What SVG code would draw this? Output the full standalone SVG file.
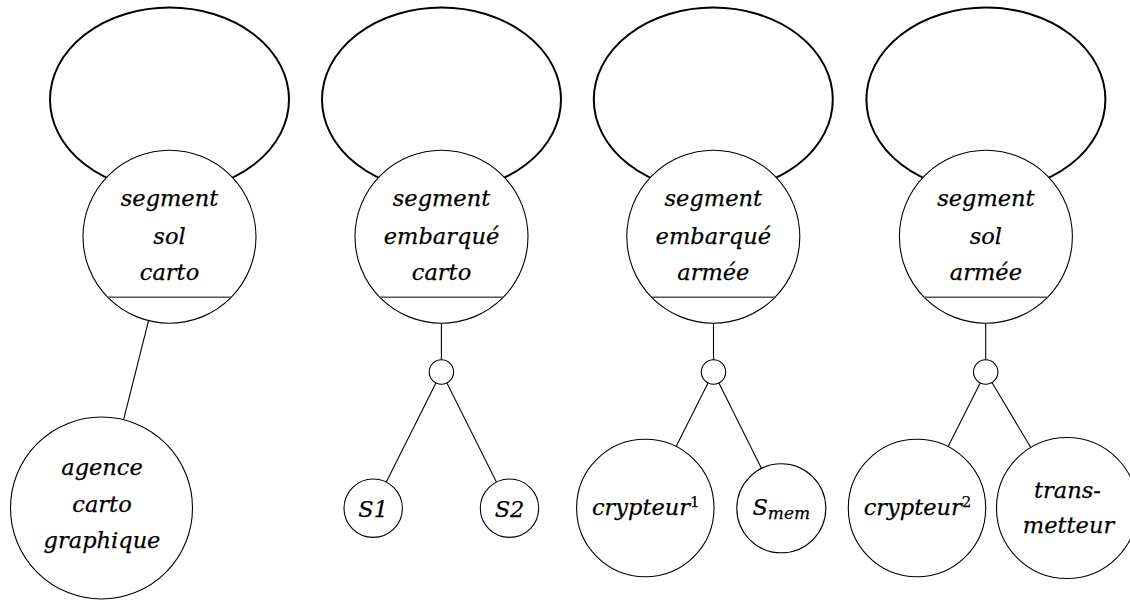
<svg xmlns="http://www.w3.org/2000/svg" width="1130" height="601" viewBox="0 0 1130 601">
<style>
.loop{fill:none;stroke:#000;stroke-width:2}
.node{fill:#fff;stroke:#000;stroke-width:1.1}
.sep{stroke:#555;stroke-width:1.6}
.edge{stroke:#000;stroke-width:1.1;fill:none}
.lbl{font-family:"DejaVu Serif",serif;font-style:italic;font-size:22.5px;fill:#000;text-anchor:middle;stroke:#000;stroke-width:0.25}
.sup{font-size:15px;font-style:normal}
.sub{font-size:17px}
</style>
<rect width="1130" height="601" fill="#fff"/>
<g id="loops">
<ellipse class="loop" cx="169.5" cy="99.5" rx="119.5" ry="92"/>
<ellipse class="loop" cx="441.5" cy="99.5" rx="119.5" ry="92"/>
<ellipse class="loop" cx="713.3" cy="99.5" rx="119.5" ry="92"/>
<ellipse class="loop" cx="985.9" cy="99.5" rx="119.5" ry="92"/>
</g>
<g id="seg-sol-carto">
<circle class="node" cx="169.5" cy="236.7" r="86.5"/>
<line class="sep" x1="107.8" y1="297.3" x2="231.2" y2="297.3"/>
<text class="lbl" x="169.5" y="206">segment</text>
<text class="lbl" x="169.5" y="244">sol</text>
<text class="lbl" x="169.5" y="280">carto</text>
</g>
<g id="seg-emb-carto">
<circle class="node" cx="441.5" cy="236.7" r="86.5"/>
<line class="sep" x1="379.8" y1="297.3" x2="503.2" y2="297.3"/>
<text class="lbl" x="441.5" y="206">segment</text>
<text class="lbl" x="441.5" y="244">embarqué</text>
<text class="lbl" x="441.5" y="280">carto</text>
</g>
<g id="seg-emb-armee">
<circle class="node" cx="713.3" cy="236.7" r="86.5"/>
<line class="sep" x1="651.6" y1="297.3" x2="775" y2="297.3"/>
<text class="lbl" x="713.3" y="206">segment</text>
<text class="lbl" x="713.3" y="244">embarqué</text>
<text class="lbl" x="713.3" y="280">armée</text>
</g>
<g id="seg-sol-armee">
<circle class="node" cx="985.9" cy="236.7" r="86.5"/>
<line class="sep" x1="924.2" y1="297.3" x2="1047.6" y2="297.3"/>
<text class="lbl" x="985.9" y="206">segment</text>
<text class="lbl" x="985.9" y="244">sol</text>
<text class="lbl" x="985.9" y="280">armée</text>
</g>
<g id="junction-2"><circle class="node" cx="441.4" cy="372" r="12.2"/></g>
<g id="junction-3"><circle class="node" cx="713.5" cy="372" r="12.2"/></g>
<g id="junction-4"><circle class="node" cx="985.7" cy="372" r="12.2"/></g>
<g id="agence">
<circle class="node" cx="101.5" cy="508" r="91"/>
<text class="lbl" x="102" y="475">agence</text>
<text class="lbl" x="102" y="511.7">carto</text>
<text class="lbl" x="102" y="548.3">graphique</text>
</g>
<g id="s1">
<circle class="node" cx="373.2" cy="508.2" r="29.2"/>
<text class="lbl" x="373.2" y="517">S1</text>
</g>
<g id="s2">
<circle class="node" cx="509.5" cy="508.2" r="29.2"/>
<text class="lbl" x="509.5" y="517">S2</text>
</g>
<g id="crypteur1">
<circle class="node" cx="645.3" cy="508" r="68.7"/>
<text class="lbl" x="645.8" y="515">crypteur<tspan class="sup" dy="-8">1</tspan></text>
</g>
<g id="smem">
<circle class="node" cx="781.3" cy="508.3" r="44.5"/>
<text class="lbl" x="781.3" y="515">S<tspan class="sub" dy="4">mem</tspan></text>
</g>
<g id="crypteur2">
<circle class="node" cx="917" cy="508" r="68.7"/>
<text class="lbl" x="917.5" y="515">crypteur<tspan class="sup" dy="-8">2</tspan></text>
</g>
<g id="transmetteur">
<circle class="node" cx="1067" cy="508" r="70.5"/>
<text class="lbl" x="1067.5" y="498.3">trans-</text>
<text class="lbl" x="1068.5" y="533.3">metteur</text>
</g>
<g id="connectors">
<line class="edge" x1="148.6" y1="320.4" x2="123.6" y2="419.7"/>
<line class="edge" x1="441.4" y1="323.2" x2="441.4" y2="359.8"/>
<line class="edge" x1="713.5" y1="323.2" x2="713.5" y2="359.8"/>
<line class="edge" x1="985.7" y1="323.2" x2="985.7" y2="359.8"/>
<line class="edge" x1="435.9" y1="382.9" x2="386.3" y2="482.1"/>
<line class="edge" x1="446.9" y1="382.9" x2="496.4" y2="482.1"/>
<line class="edge" x1="708" y1="382.9" x2="676.1" y2="446.6"/>
<line class="edge" x1="718.9" y1="382.9" x2="761.5" y2="468.5"/>
<line class="edge" x1="980.2" y1="382.9" x2="948" y2="446.7"/>
<line class="edge" x1="992" y1="382.5" x2="1030.8" y2="447.5"/>
</g>
</svg>
